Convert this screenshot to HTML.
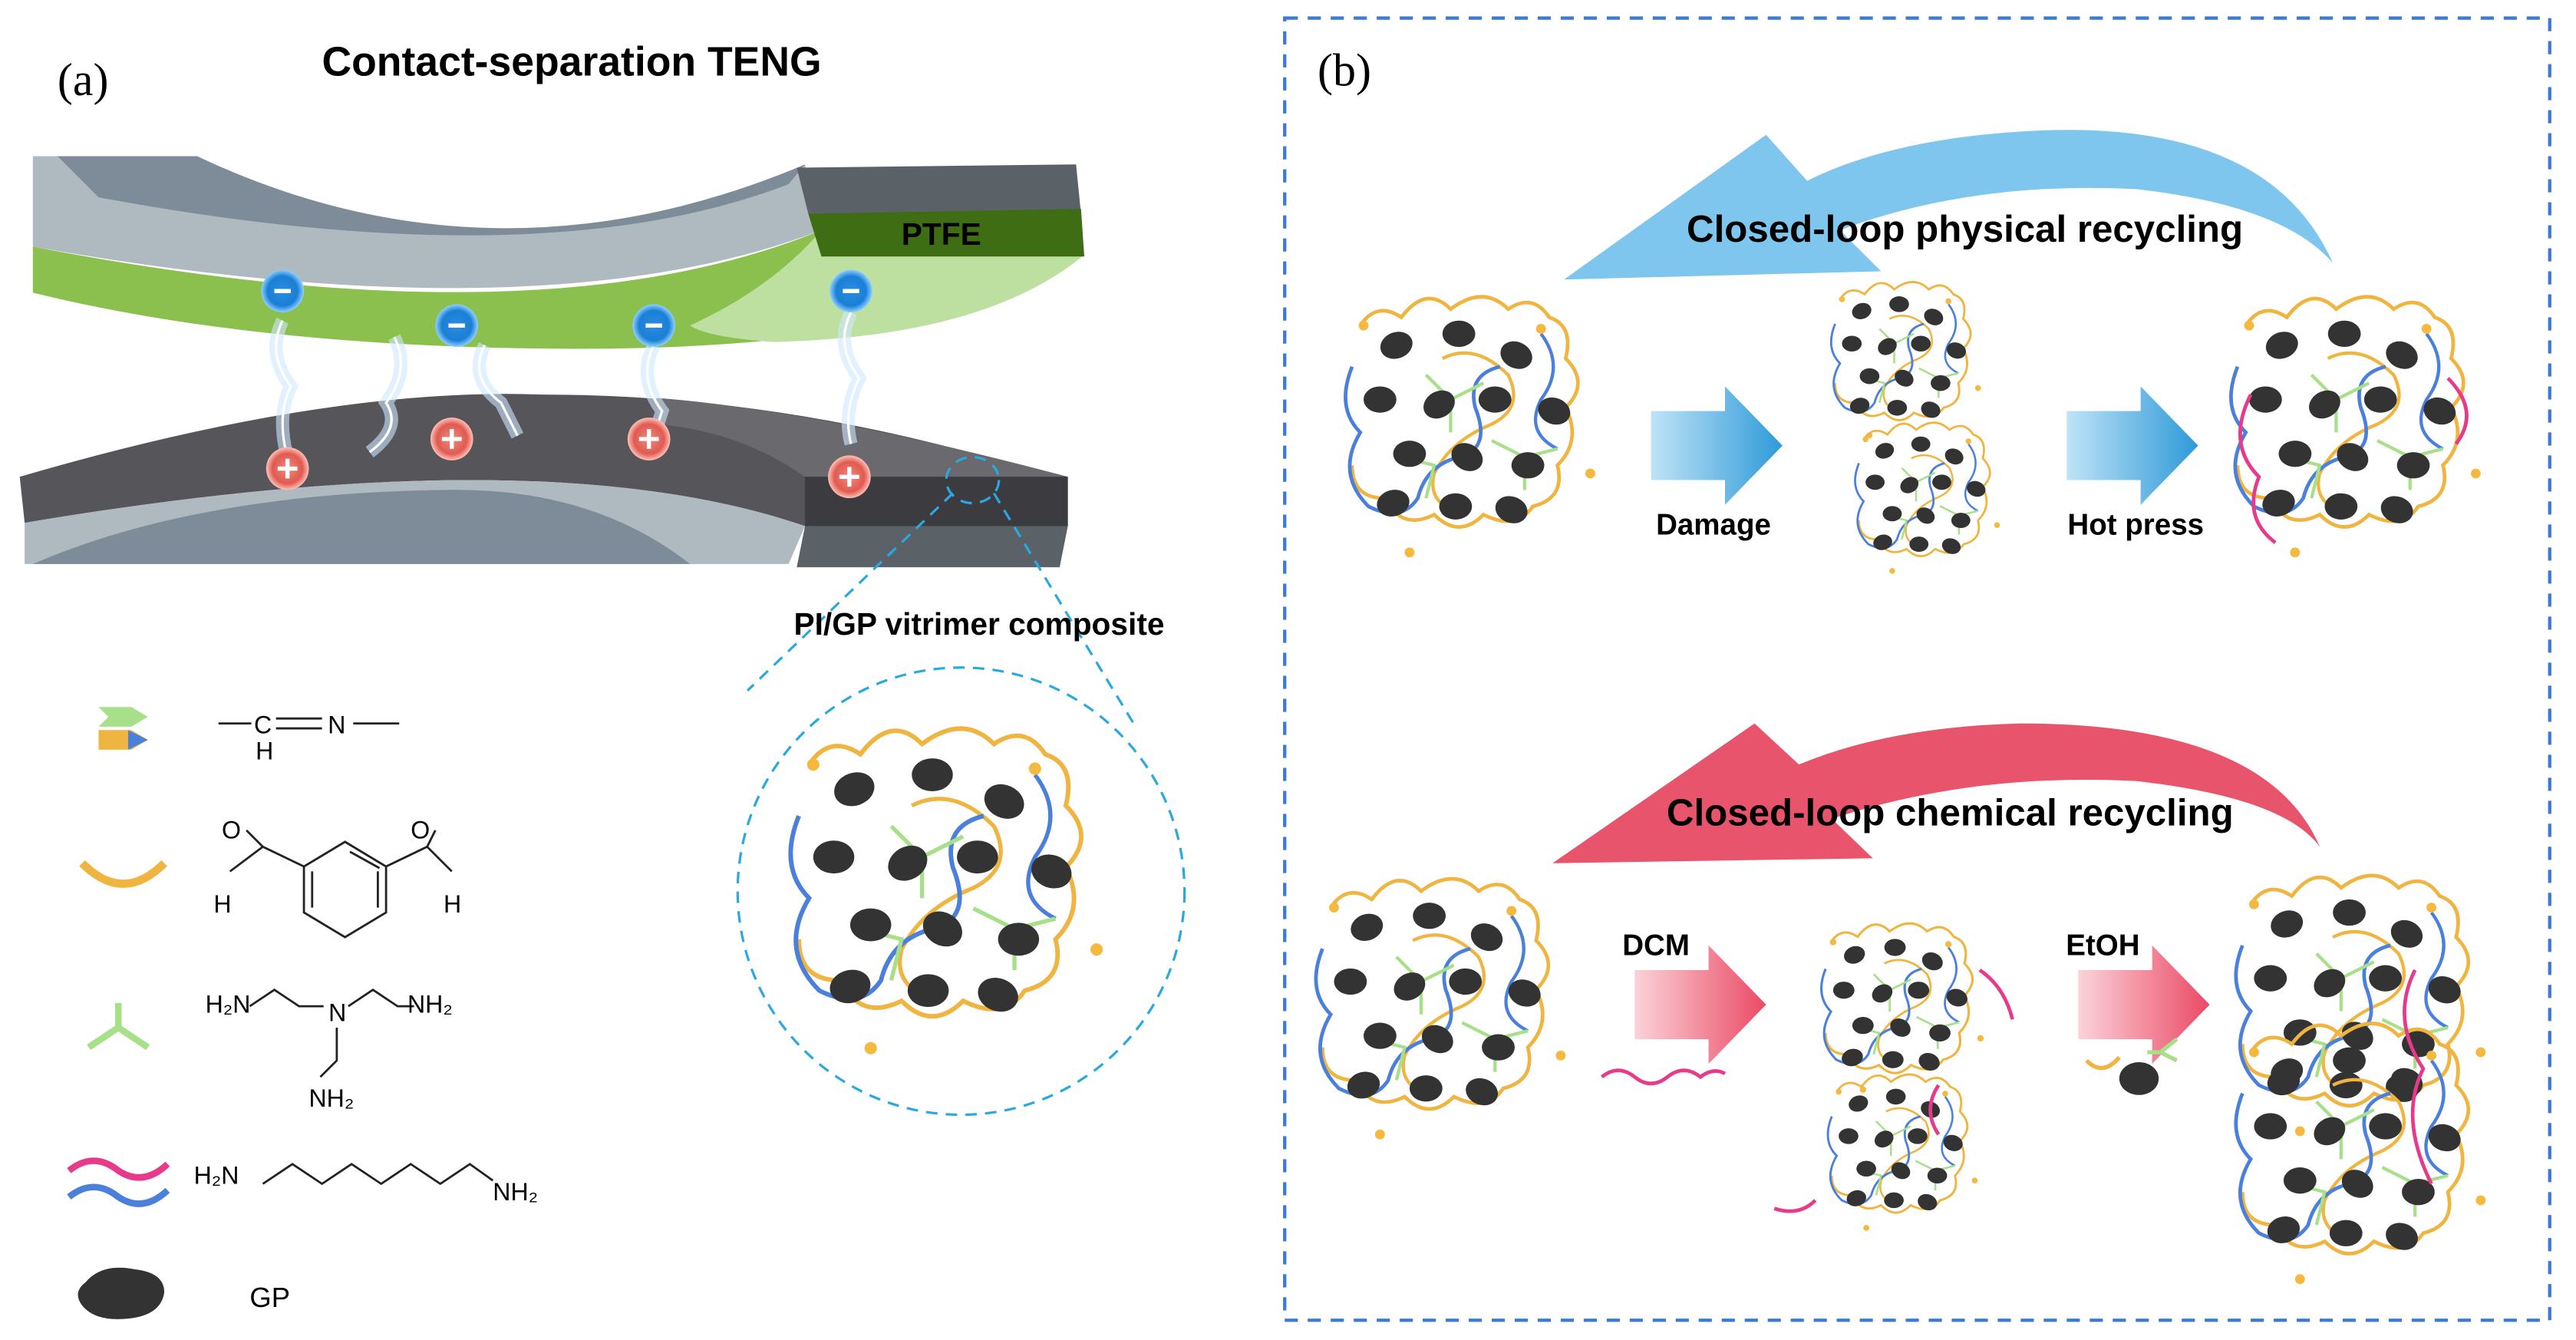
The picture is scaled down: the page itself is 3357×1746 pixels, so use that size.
<!DOCTYPE html>
<html><head><meta charset="utf-8"><style>
html,body{margin:0;padding:0;background:#fff;width:3357px;height:1746px;overflow:hidden}
svg{display:block}
text{font-family:"Liberation Sans",Arial,sans-serif}
</style></head><body>
<svg width="3357" height="1746" viewBox="0 0 1568 815" preserveAspectRatio="none" xmlns="http://www.w3.org/2000/svg">
<defs>
<linearGradient id="bg" x1="0" x2="1"><stop offset="0" stop-color="#bfe3f7"/><stop offset="1" stop-color="#2e9ad8"/></linearGradient>
<linearGradient id="rg" x1="0" x2="1"><stop offset="0" stop-color="#fbd3da"/><stop offset="1" stop-color="#ea4a64"/></linearGradient>
<radialGradient id="bc"><stop offset="0" stop-color="#2a8fe0"/><stop offset="0.7" stop-color="#1a7fd6"/><stop offset="1" stop-color="#8fd0ff"/></radialGradient>
<radialGradient id="rc"><stop offset="0" stop-color="#f08a80"/><stop offset="0.7" stop-color="#e05a50"/><stop offset="1" stop-color="#ffc0b8"/></radialGradient>
<g id="cl">
<path d="M-70,-60 q10,-15 25,-5 q15,-20 30,-5 q20,-15 35,0 q15,-10 25,5 q15,5 10,25 q15,15 0,30 q10,20 -5,35 q5,20 -15,25 q-10,15 -30,5 q-15,15 -30,0 q-20,10 -30,-10 q-20,0 -20,-20" fill="none" stroke="#f0b440" stroke-width="2.2"/>
<path d="M-20,-40 q20,-10 40,10 q10,20 -10,30 q-25,10 -35,30 q-5,20 20,25" fill="none" stroke="#f0b440" stroke-width="2"/>
<path d="M-75,-35 q-10,25 5,40 q-15,25 5,45 q20,10 30,-5 q5,-20 25,-25 q20,-5 10,-30 q-5,-20 15,-25" fill="none" stroke="#4a80dc" stroke-width="2.2"/>
<path d="M40,-55 q15,20 0,40 q-10,20 10,30" fill="none" stroke="#4a80dc" stroke-width="2"/>
<path d="M-30,-30 l15,15 l20,-10 M-15,-15 l0,20 M10,10 l20,10 l20,-5 M30,20 l0,20 M-45,20 l20,5 l-5,20" fill="none" stroke="#a8e08a" stroke-width="2"/>
<g fill="#333">
<ellipse cx="-48" cy="-48" rx="10" ry="8" transform="rotate(-20 -48 -48)"/>
<ellipse cx="-10" cy="-55" rx="10" ry="8"/>
<ellipse cx="25" cy="-42" rx="10" ry="8" transform="rotate(25 25 -42)"/>
<ellipse cx="-58" cy="-15" rx="10" ry="8"/>
<ellipse cx="-22" cy="-12" rx="10" ry="8" transform="rotate(-30 -22 -12)"/>
<ellipse cx="12" cy="-15" rx="10" ry="8"/>
<ellipse cx="48" cy="-8" rx="10" ry="8" transform="rotate(20 48 -8)"/>
<ellipse cx="-40" cy="18" rx="10" ry="8"/>
<ellipse cx="-5" cy="20" rx="10" ry="8" transform="rotate(30 -5 20)"/>
<ellipse cx="32" cy="25" rx="10" ry="8"/>
<ellipse cx="-50" cy="48" rx="10" ry="8" transform="rotate(-15 -50 48)"/>
<ellipse cx="-12" cy="50" rx="10" ry="8"/>
<ellipse cx="22" cy="52" rx="10" ry="8" transform="rotate(20 22 52)"/>
</g>
<g fill="#f5b940"><circle cx="-68" cy="-60" r="3"/><circle cx="40" cy="-58" r="3"/><circle cx="70" cy="30" r="3"/><circle cx="-40" cy="78" r="3"/></g>
</g>
</defs>

<text x="35" y="58" font-size="28" style="font-family:'Liberation Serif',serif">(a)</text>
<text x="348" y="46" font-size="25" font-weight="bold" text-anchor="middle">Contact-separation TENG</text>

<!-- top plate -->
<path d="M20,95 L120,95 Q300,185 490,100 L500,140 Q330,205 20,150 Z" fill="#aeb9c0"/>
<path d="M35,95 L120,95 Q300,180 490,100 L480,112 Q330,170 60,120 Z" fill="#7d8c98"/>
<path d="M20,150 Q330,210 500,140 L660,155 Q560,215 330,212 Q150,210 20,178 Z" fill="#8bbf4e"/>
<path d="M500,140 L660,155 Q600,205 470,208 Q430,205 420,198 Q470,175 500,140Z" fill="#bde0a0"/>
<path d="M485,102 L655,100 L658,130 L492,130 Z" fill="#5a6268"/>
<path d="M492,130 L658,127 L660,156 L500,156 Z" fill="#3f6d14"/>
<text x="573" y="149" font-size="19" font-weight="bold" text-anchor="middle">PTFE</text>

<!-- bottom plate -->
<path d="M12,290 Q200,235 330,240 Q450,240 570,270 L650,290 L650,320 L490,320 Q330,265 15,318 Z" fill="#56565a"/>
<path d="M400,242 Q500,250 650,290 L490,290 Q450,262 400,258Z" fill="#6a6a6e"/>
<path d="M15,318 Q330,265 490,320 L480,343 L15,343 Z" fill="#aeb9c0"/>
<path d="M20,343 Q120,300 270,298 Q360,296 420,343 Z" fill="#7d8c98"/>
<path d="M490,290 L650,290 L650,320 L490,320Z" fill="#3c3c40"/>
<path d="M490,320 L650,320 L645,345 L485,345Z" fill="#5a6268"/>

<g fill="none" stroke="#cfe8ff" stroke-width="8" opacity="0.6">
<path d="M172,195 q-10,20 5,40 q-10,20 0,50"/><path d="M240,205 q10,20 -5,40 q10,15 -10,30"/><path d="M295,210 q-10,20 10,35 q5,10 10,20"/><path d="M398,210 q-10,20 5,40 q-5,15 -5,20"/><path d="M518,190 q-10,20 5,40 q-10,20 -5,40"/>
</g>
<g fill="none" stroke="#fff" stroke-width="1.5">
<path d="M172,195 q-10,20 5,40 q-10,20 0,50"/><path d="M240,205 q10,20 -5,40 q10,15 -10,30"/><path d="M295,210 q-10,20 10,35 q5,10 10,20"/><path d="M398,210 q-10,20 5,40 q-5,15 -5,20"/><path d="M518,190 q-10,20 5,40 q-10,20 -5,40"/>
</g>
<g><circle cx="172" cy="177" r="13" fill="url(#bc)"/><circle cx="278" cy="198" r="13" fill="url(#bc)"/><circle cx="398" cy="198" r="13" fill="url(#bc)"/><circle cx="518" cy="177" r="13" fill="url(#bc)"/>
<circle cx="175" cy="285" r="13" fill="url(#rc)"/><circle cx="275" cy="267" r="13" fill="url(#rc)"/><circle cx="395" cy="267" r="13" fill="url(#rc)"/><circle cx="517" cy="290" r="13" fill="url(#rc)"/></g>
<g stroke="#fff" stroke-width="2.5"><path d="M167,177h10M273,198h10M393,198h10M513,177h10M169,285h12M175,279v12M269,267h12M275,261v12M389,267h12M395,261v12M511,290h12M517,284v12"/></g>

<g fill="none" stroke="#2aa8e0" stroke-width="1.5" stroke-dasharray="7,5">
<ellipse cx="592" cy="292" rx="16" ry="14"/>
<path d="M580,300 L455,420 M605,300 L690,440"/>
<circle cx="585" cy="542" r="136"/>
</g>
<text x="596" y="386" font-size="19" font-weight="bold" text-anchor="middle">PI/GP vitrimer composite</text>
<use href="#cl" transform="translate(580,540) scale(1.25)"/>

<path d="M60,430 h20 l10,6 l-10,6 h-20 l6,-6z" fill="#a8e08a"/>
<path d="M60,444 h20 l10,6 l-10,6 h-20z" fill="#f0b440"/>
<path d="M78,444 l12,6 l-12,6z" fill="#4a80dc"/>
<g stroke="#222" stroke-width="1.3" fill="none">
<path d="M133,440 h20 M168,437 h28 M168,443 h28 M215,440 h28"/>
</g>
<text x="160" y="446" font-size="15" text-anchor="middle">C</text><text x="205" y="446" font-size="15" text-anchor="middle">N</text><text x="161" y="462" font-size="15" text-anchor="middle">H</text>

<path d="M50,525 q25,25 50,0" fill="none" stroke="#f0b440" stroke-width="5"/>
<g stroke="#222" stroke-width="1.3" fill="none">
<polygon points="210,512 235,527 235,555 210,570 185,555 185,527"/>
<path d="M190,530 v22 M230,530 v22 M213,518 l18,10"/>
<path d="M185,527 l-25,-12 l-10,-10 M160,515 l-20,15 M235,527 l25,-12 l5,-10 M260,515 l15,15"/>
</g>
<text x="130" y="555" font-size="15">H</text><text x="270" y="555" font-size="15">H</text>
<text x="135" y="510" font-size="15">O</text><text x="250" y="510" font-size="15">O</text>

<path d="M72,610 v15 M72,625 l-18,12 M72,625 l18,12" stroke="#a8e08a" stroke-width="4" fill="none"/>
<g stroke="#222" stroke-width="1.3" fill="none"><path d="M152,612 l15,-10 l15,10 l15,0 M212,612 l15,-10 l15,10 l10,0 M205,625 l0,20 l-10,10"/></g>
<text x="125" y="616" font-size="15">H₂N</text><text x="200" y="621" font-size="15">N</text><text x="248" y="616" font-size="15">NH₂</text><text x="188" y="673" font-size="15">NH₂</text>

<path d="M42,712 q15,-12 30,0 q15,10 30,-4" fill="none" stroke="#e83a8a" stroke-width="4"/>
<path d="M42,728 q15,-12 30,0 q15,10 30,-4" fill="none" stroke="#4a80dc" stroke-width="4"/>
<path d="M160,720 l18,-12 l18,12 l18,-12 l18,12 l18,-12 l18,12 l18,-12 l14,10" fill="none" stroke="#222" stroke-width="1.3"/>
<text x="118" y="720" font-size="15">H₂N</text><text x="300" y="730" font-size="15">NH₂</text>
<path d="M52,780 q10,-12 30,-8 q18,2 18,14 q-2,14 -22,16 q-20,2 -28,-8 q-6,-8 2,-14z" fill="#333"/>
<text x="152" y="795" font-size="17">GP</text>

<rect x="782" y="11" width="770" height="792" fill="none" stroke="#3b7ad6" stroke-width="2" stroke-dasharray="8,6"/>
<text x="802" y="52" font-size="28" style="font-family:'Liberation Serif',serif">(b)</text>

<path d="M1420,160 Q1380,70 1230,80 Q1150,85 1100,110 L1075,82 L952,170 L1145,165 L1120,140 Q1200,110 1300,115 Q1390,125 1420,160Z" fill="#7fc6ee"/>
<text x="1196" y="147" font-size="23" font-weight="bold" text-anchor="middle">Closed-loop physical recycling</text>

<path d="M1412,515 Q1380,440 1230,440 Q1150,442 1095,465 L1068,440 L945,525 L1140,522 L1115,498 Q1200,470 1300,475 Q1390,485 1412,515Z" fill="#e8546c"/>
<text x="1187" y="502" font-size="23" font-weight="bold" text-anchor="middle">Closed-loop chemical recycling</text>

<path d="M1005,250 h45 v-15 l35,36 l-35,36 v-15 h-45z" fill="url(#bg)"/>
<path d="M1258,250 h45 v-15 l35,36 l-35,36 v-15 h-45z" fill="url(#bg)"/>
<text x="1043" y="325" font-size="18" font-weight="bold" text-anchor="middle">Damage</text>
<text x="1300" y="325" font-size="18" font-weight="bold" text-anchor="middle">Hot press</text>
<path d="M995,590 h45 v-15 l35,36 l-35,36 v-15 h-45z" fill="url(#rg)"/>
<path d="M1265,590 h45 v-15 l35,36 l-35,36 v-15 h-45z" fill="url(#rg)"/>
<text x="1008" y="581" font-size="18" font-weight="bold" text-anchor="middle">DCM</text>
<text x="1280" y="581" font-size="18" font-weight="bold" text-anchor="middle">EtOH</text>

<use href="#cl" transform="translate(898,258) scale(1.0)"/>
<use href="#cl" transform="translate(1162,218) scale(0.6)"/>
<use href="#cl" transform="translate(1175,302) scale(0.58)"/>
<use href="#cl" transform="translate(1437,258) scale(1.0)"/>
<path d="M1370,240 q-15,30 5,50 q-10,25 10,40 M1490,230 q20,20 5,40" fill="none" stroke="#e83a8a" stroke-width="2.2"/>

<use href="#cl" transform="translate(880,612) scale(1.0)"/>
<use href="#cl" transform="translate(1160,612) scale(0.65)"/>
<use href="#cl" transform="translate(1160,700) scale(0.6)"/>
<use href="#cl" transform="translate(1440,610) scale(1.0)"/>
<use href="#cl" transform="translate(1440,700) scale(1.0)"/>
<path d="M975,655 q10,-8 20,0 q10,8 20,0 q10,-8 20,0 q8,-6 15,-2" fill="none" stroke="#e83a8a" stroke-width="2.2"/>
<path d="M1205,590 q15,10 20,30 M1180,660 q-10,15 0,30 M1080,735 q15,5 25,-5 M1470,590 q-15,30 5,60 q-15,30 5,70" fill="none" stroke="#e83a8a" stroke-width="2.2"/>
<path d="M1270,645 q10,10 20,-2" fill="none" stroke="#f0b440" stroke-width="2.5"/>
<path d="M1315,640 l10,-8 M1315,640 l10,5 M1315,640 l-8,0" stroke="#a8e08a" stroke-width="2.5"/>
<ellipse cx="1302" cy="656" rx="12" ry="10" fill="#333"/>
</svg>
</body></html>
